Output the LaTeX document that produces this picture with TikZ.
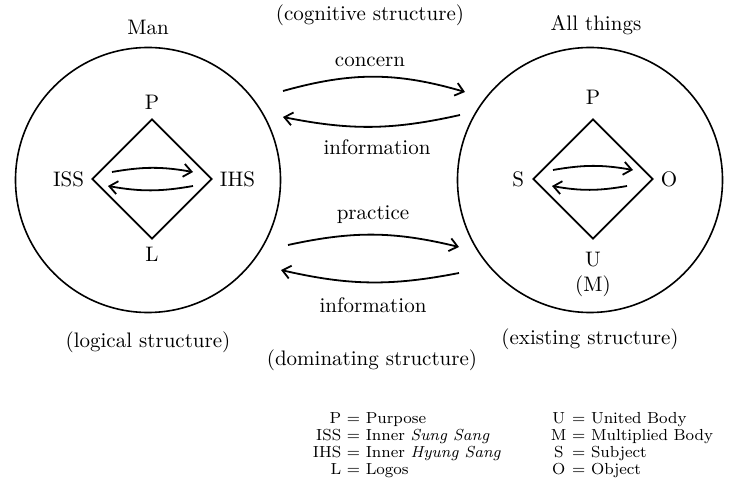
\documentclass[tikz,border=0pt]{standalone}
\usepackage{tikz}
\usetikzlibrary{shapes.geometric, positioning, arrows.meta}

\begin{document}
\begin{tikzpicture}[x=0.5pt, y=0.5pt, font=\fontsize{10.5}{12}\selectfont, >={Straight Barb[length=4pt,width=6.5pt]},
  world/.style = {draw, circle, minimum size=132.5pt, line width=0.8pt},
  rhomb/.style = {draw, diamond, minimum size=60pt, inner sep=0pt, line width=0.9pt},
  flow/.style = {->, line width=0.9pt}]
  \useasboundingbox (0,0) rectangle (738,-491);
  % circles
  \node[world] (man) at (148,-180) {};
  \node[world] (all) at (590,-180) {};
  \node (mant) [above=2.5pt of man.north] {Man};
  \node (allt) [above=2.5pt of all.north, xshift=3pt] {All things};
  \node (logic) [below=5.5pt of man.south] {(logical structure)};
  \node (exist) [below=4pt of all.south] {(existing structure)};
  % man
  \node[rhomb] (d1) at (152,-179) {};
  \node (p1) [above=1pt of d1.north] {P};
  \node (iss) [left=0pt of d1.west] {ISS};
  \node (ihs) [right=0pt of d1.east] {IHS};
  \node (l1) [below=0pt of d1.south] {L};
  \coordinate (a1) at (112,-172); \coordinate (a2) at (193,-172);
  \coordinate (a3) at (193,-186); \coordinate (a4) at (108,-186);
  \draw[flow] (a1) to[bend left=10] (a2);
  \draw[flow] (a3) to[bend left=10] (a4);
  % all things
  \node[rhomb] (d2) at (593,-179) {};
  \node (p2) [above=3.5pt of d2.north] {P};
  \node (s) [left=0.5pt of d2.west] {S};
  \node (o) [right=0pt of d2.east] {O};
  \node (u) [below=2.5pt of d2.south] {U};
  \node (m) [below=-2.5pt of u] {(M)};
  \coordinate (b1) at (553,-170); \coordinate (b2) at (633,-170);
  \coordinate (b3) at (627,-186); \coordinate (b4) at (552,-186);
  \draw[flow] (b1) to[bend left=10] (b2);
  \draw[flow] (b3) to[bend left=10] (b4);
  % between
  \node (cogn) at (370,-15) {(cognitive structure)};
  \node (conc) at (370,-62) {concern};
  \node (info1) at (377,-147) {information};
  \node (prac) at (373,-215) {practice};
  \node (info2) at (373,-305) {information};
  \node (domi) at (372,-360) {(dominating structure)};
  \coordinate (c1) at (283,-91); \coordinate (c2) at (465,-92);
  \coordinate (c3) at (460,-115); \coordinate (c4) at (283,-117);
  \coordinate (c5) at (288,-245); \coordinate (c6) at (459,-247);
  \coordinate (c7) at (459,-273); \coordinate (c8) at (281,-270);
  \draw[flow] (c1) to[bend left=16] (c2);
  \draw[flow] (c3) to[bend left=12] (c4);
  \draw[flow] (c5) to[bend left=13] (c6);
  \draw[flow] (c7) to[bend left=12] (c8);
  % key
  \node[font=\fontsize{8}{8.5}\selectfont] (key) at (513,-446) {\begin{tabular}{@{}r@{ = }l@{\hspace{25pt}}c@{ = }l@{}}
    P & Purpose & U & United Body\\
    ISS & Inner \textit{Sung Sang} & M & Multiplied Body\\
    IHS & Inner \textit{Hyung Sang} & S & Subject\\
    L & Logos & O & Object
  \end{tabular}};
\end{tikzpicture}
\end{document}
